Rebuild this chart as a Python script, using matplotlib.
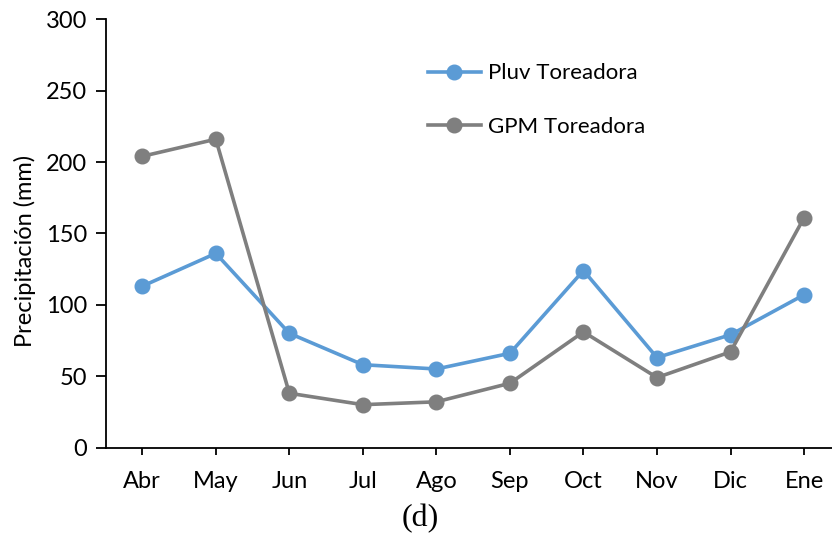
import matplotlib.pyplot as plt
import numpy as np

# Datos
meses = ['Abr', 'May', 'Jun', 'Jul', 'Ago', 'Sep', 'Oct', 'Nov', 'Dic', 'Ene']
pluv_toreadora = [113, 136, 80, 58, 55, 66, 124, 63, 79, 107]
gpm_toreadora = [204, 216, 38, 30, 32, 45, 81, 49, 67, 161]

plt.rcParams['font.family'] = ['Lato', 'DejaVu Sans']

fig = plt.figure(figsize=(8.32, 5.40), dpi=100)
ax = fig.add_axes([105.5 / 832, 1 - 447.5 / 540, 1 - 105.5 / 832, (447.5 - 19.3) / 540])

x = np.arange(len(meses))
ax.plot(x, pluv_toreadora, color='#5B9BD5', lw=2.6, marker='o', ms=10.5, label='Pluv Toreadora')
ax.plot(x, gpm_toreadora, color='#7F7F7F', lw=2.6, marker='o', ms=10.5, label='GPM Toreadora')

ax.set_xlim(-0.5, 9.38)
ax.set_ylim(0, 300)
ax.set_yticks(range(0, 301, 50))
ax.set_xticks(x)
ax.set_xticklabels(meses)
ax.tick_params(labelsize=17, length=5, width=1.3, direction='out', colors='black')
ax.tick_params(axis='x', pad=12)
ax.tick_params(axis='y', length=7, pad=6)

for s in ['top', 'right']:
    ax.spines[s].set_visible(False)
for s in ['left', 'bottom']:
    ax.spines[s].set_linewidth(1.3)

ax.set_ylabel('Precipitación (mm)', fontsize=17, labelpad=10)
ax.yaxis.set_label_coords(-0.095, 0.46)

ax.legend(loc='upper left', bbox_to_anchor=(0.416, 0.944), frameon=False, fontsize=16,
          handlelength=2.4, labelspacing=1.52, handletextpad=0.3)

fig.text(420 / 832, 1 - 519 / 540, '(d)', family='Liberation Serif', fontsize=23,
         ha='center', va='center')

plt.savefig('out.png', dpi=100)
